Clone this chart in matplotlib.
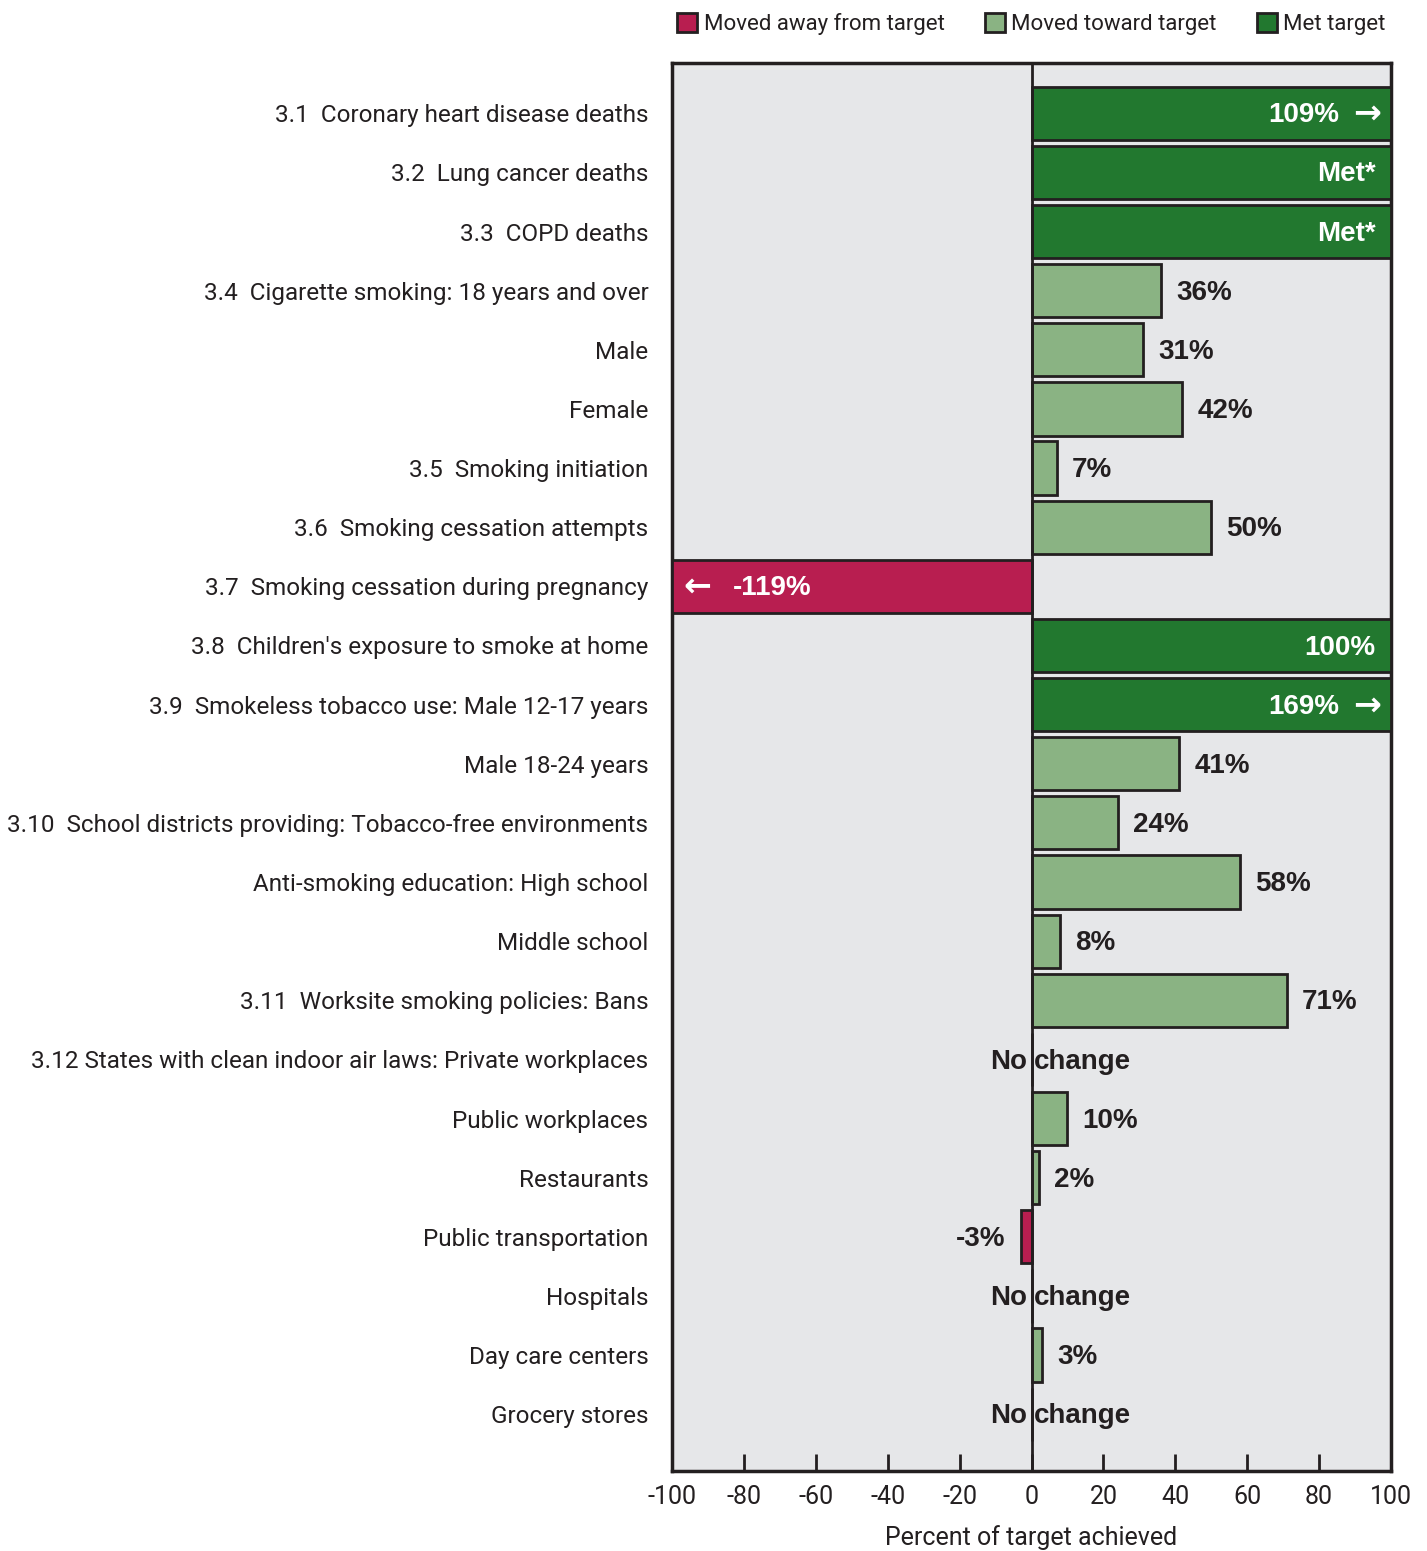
import numpy as np
import matplotlib
matplotlib.use("Agg")
import matplotlib.pyplot as plt
from matplotlib.patches import Patch

# data
labels = [
    "3.1  Coronary heart disease deaths",
    "3.2  Lung cancer deaths",
    "3.3  COPD deaths",
    "3.4  Cigarette smoking: 18 years and over",
    "Male",
    "Female",
    "3.5  Smoking initiation",
    "3.6  Smoking cessation attempts",
    "3.7  Smoking cessation during pregnancy",
    "3.8  Children's exposure to smoke at home",
    "3.9  Smokeless tobacco use: Male 12-17 years",
    "Male 18-24 years",
    "3.10  School districts providing: Tobacco-free environments",
    "Anti-smoking education: High school",
    "Middle school",
    "3.11  Worksite smoking policies: Bans",
    "3.12 States with clean indoor air laws: Private workplaces",
    "Public workplaces",
    "Restaurants",
    "Public transportation",
    "Hospitals",
    "Day care centers",
    "Grocery stores",
]
values = [109, 100, 100, 36, 31, 42, 7, 50, -119, 100, 169, 41, 24, 58, 8, 71,
          0, 10, 2, -3, 0, 3, 0]
status = ["met", "met", "met", "toward", "toward", "toward", "toward", "toward",
          "away", "met", "met", "toward", "toward", "toward", "toward", "toward",
          "none", "toward", "toward", "away", "none", "toward", "none"]
value_text = ["109%", "Met*", "Met*", "36%", "31%", "42%", "7%", "50%", "-119%",
              "100%", "169%", "41%", "24%", "58%", "8%", "71%", "No change",
              "10%", "2%", "-3%", "No change", "3%", "No change"]

colors = {"met": "#22782f", "toward": "#8ab383", "away": "#b81e50"}
edge = "#231f20"
plain = ["Roboto", "DejaVu Sans"]
boldfont = ["Liberation Sans", "DejaVu Sans"]
vsize = 20

fig = plt.figure(figsize=(14.27, 15.51), dpi=100)
ax = fig.add_axes([672 / 1427, 1 - 1471 / 1551, (1391 - 672) / 1427, (1471 - 63) / 1551])
ax.set_facecolor("#e6e7e9")

rows = np.arange(len(labels))
shown = np.clip(values, -100, 100)
bar_colors = [colors.get(s, "#e6e7e9") for s in status]
ax.barh(rows, shown, height=0.9, color=bar_colors, edgecolor=edge, linewidth=2, zorder=3)
ax.axvline(0, color=edge, lw=2, zorder=4)


def put(t, x, y, dx, ha, color=edge, family=boldfont, size=vsize, z=5, dy=-1.5):
    ax.annotate(t, (x, y), xytext=(dx, dy), textcoords="offset points", ha=ha,
                va="center", color=color, fontsize=size, fontweight="bold",
                family=family, zorder=z)


for i, (v, s, t) in enumerate(zip(values, status, value_text)):
    if s == "met":
        if v > 100:
            put(t, 100, i, -37, "right", color="white")
            put("\u2192", 100, i, -7, "right", color="white", family=["DejaVu Sans"], size=24, dy=0)
        else:
            put(t, 100, i, -11, "right", color="white")
    elif v < -100:
        put("\u2190", -100, i, 8, "left", color="white", family=["DejaVu Sans"], size=24, dy=0)
        put(t, -100, i, 44, "left", color="white")
    elif s == "none":
        a, b = t.split(" ", 1)
        put(a, 0, i, -3, "right", z=2)
        put(b, 0, i, 2, "left", z=2)
    elif v < 0:
        put(t, v, i, -11, "right")
    else:
        put(t, v, i, 11, "left")

ax.set_xlim(-100, 100)
ax.set_ylim(len(labels) - 1 + 0.96, -0.85)
ax.set_yticks(rows, labels, family=plain, fontsize=17.5, color=edge)
ax.tick_params(axis="y", length=0, pad=17)
ax.set_xticks(np.arange(-100, 101, 20))
ax.set_xticklabels([str(x) for x in range(-100, 101, 20)], family=plain, fontsize=18, color=edge)
ax.tick_params(axis="x", direction="in", length=12, width=2, color=edge, pad=10)
ax.set_xlabel("Percent of target achieved", family=plain, fontsize=18, color=edge, labelpad=12)
for sp in ax.spines.values():
    sp.set_linewidth(2.5)
    sp.set_color(edge)

handles = [Patch(facecolor=colors["away"], edgecolor=edge, lw=2, label="Moved away from target"),
           Patch(facecolor=colors["toward"], edgecolor=edge, lw=2, label="Moved toward target"),
           Patch(facecolor=colors["met"], edgecolor=edge, lw=2, label="Met target")]
ax.legend(handles=handles, loc="center", bbox_to_anchor=(0.5, 1.0277), ncol=3, frameon=False,
          prop={"family": plain, "size": 16}, handlelength=0.9, handleheight=0.9,
          handletextpad=0.3, columnspacing=1.8, borderaxespad=0, labelcolor=edge)

fig.savefig("out.png", dpi=100)
